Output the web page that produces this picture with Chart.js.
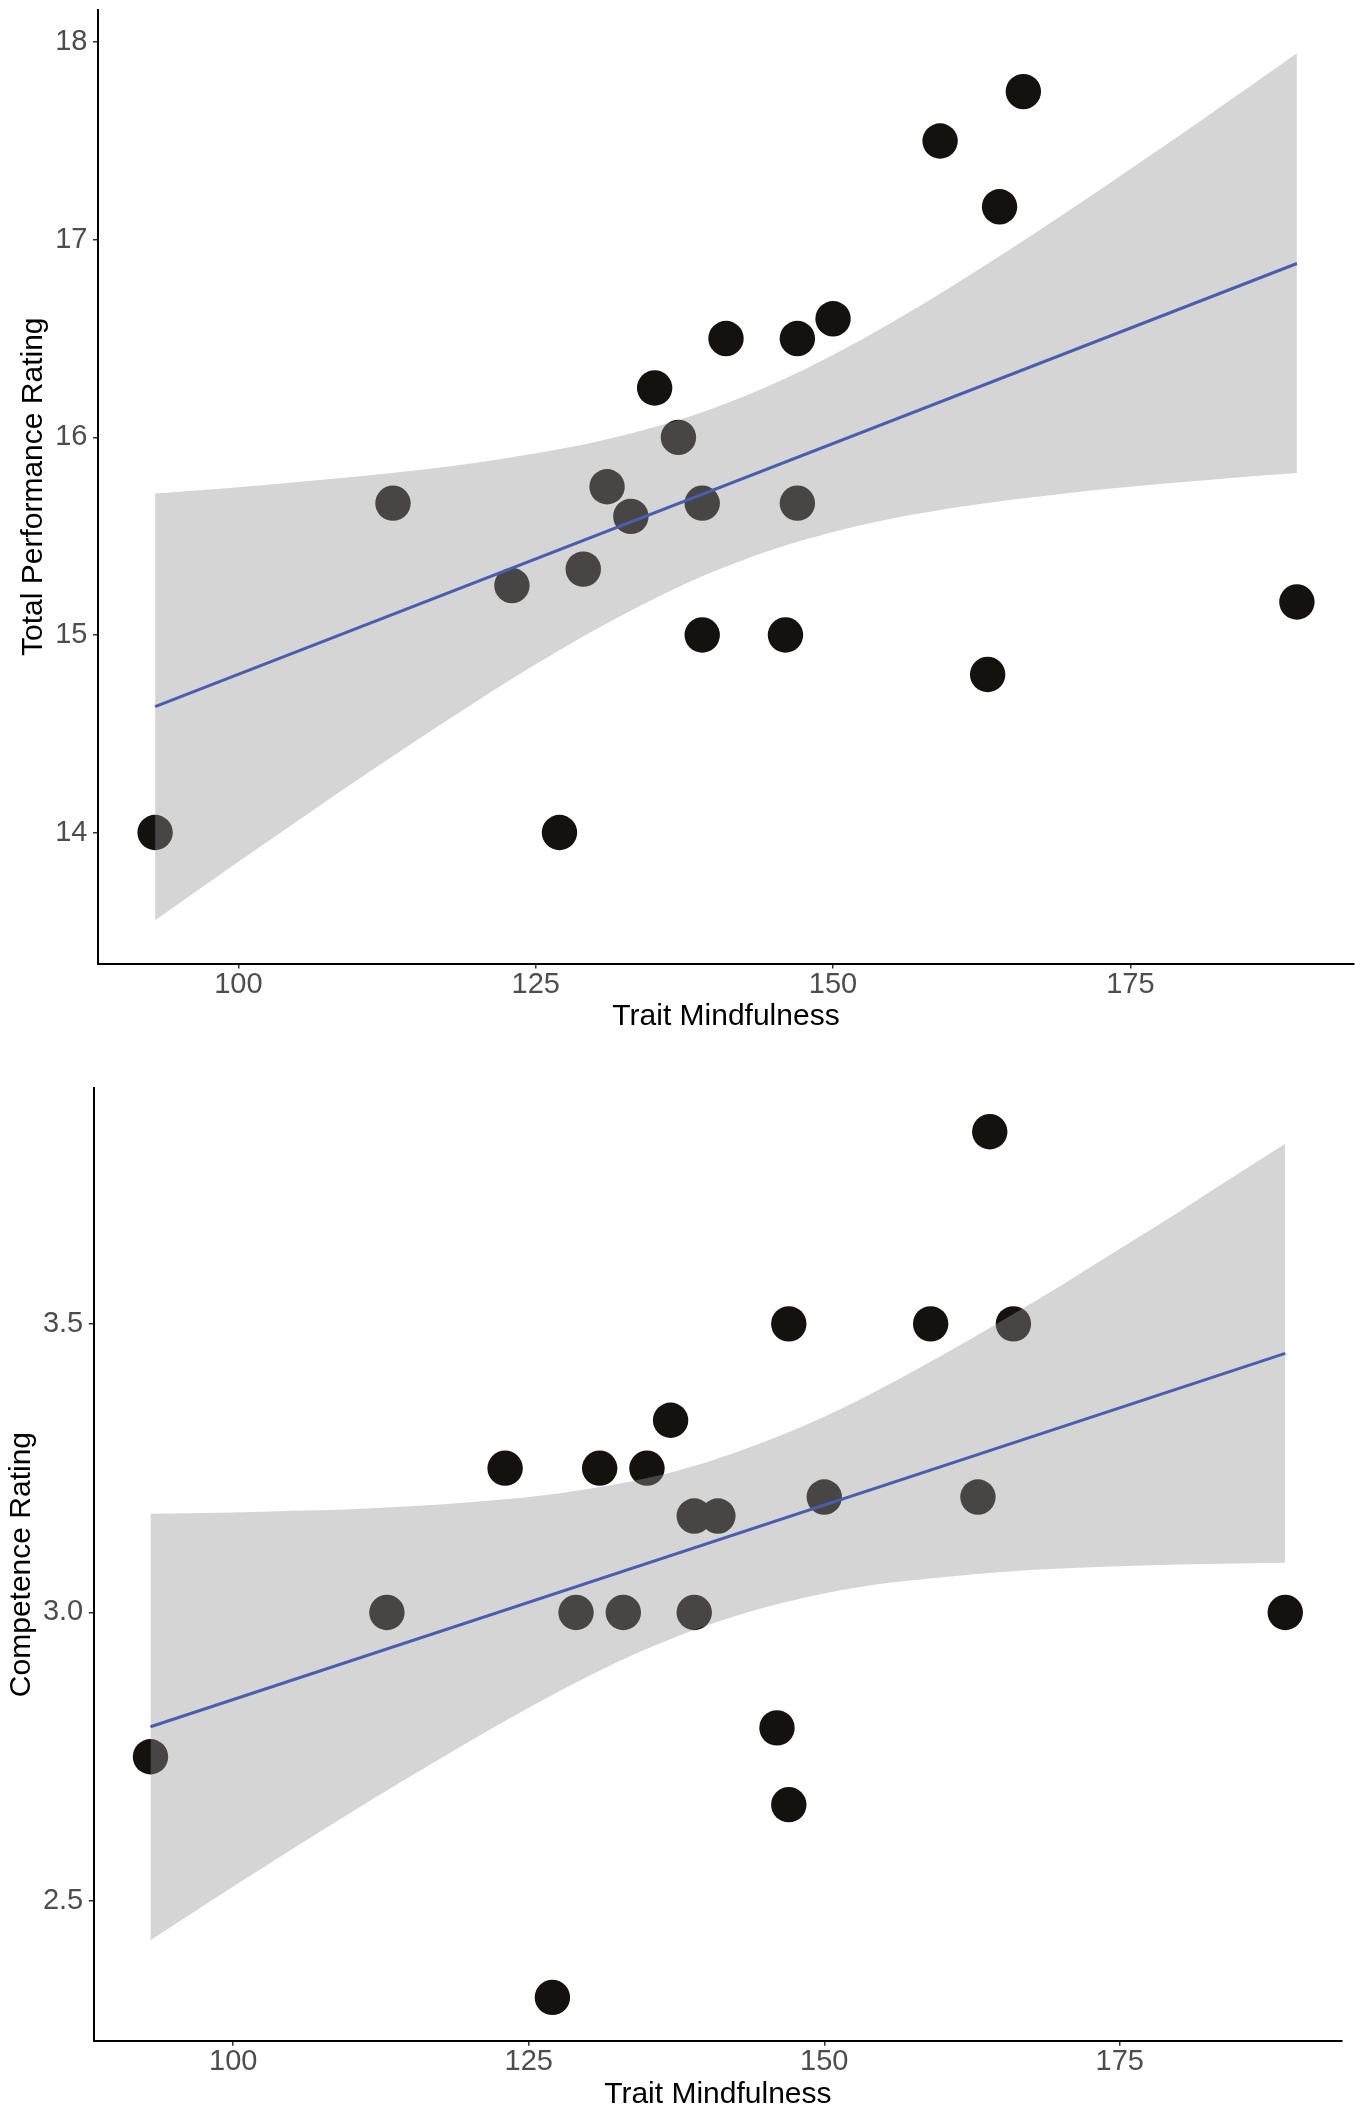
<!DOCTYPE html>
<html>
<head>
<meta charset="utf-8">
<script src="https://cdn.jsdelivr.net/npm/chart.js@4"></script>
<style>
html,body{margin:0;padding:0;background:#fff;}
body{width:1364px;height:2122px;position:relative;overflow:hidden;}
canvas{position:absolute;left:0;}
#c1{top:0;}
#c2{top:1061px;}
</style>
</head>
<body>
<canvas id="c1" width="1364" height="1061"></canvas>
<canvas id="c2" width="1364" height="1061"></canvas>
<script>
// ---- data ----
const mindfulness = [93,113,123,127,129,131,133,135,137,139,139,141,146,147,147,150,159,163,164,166,189];
const performance = [14,15.667,15.25,14,15.333,15.75,15.6,16.25,16,15.667,15,16.5,15,16.5,15.667,16.6,17.5,14.8,17.167,17.75,15.167];
const competence  = [2.75,3,3.25,2.333,3,3.25,3,3.25,3.333,3.167,3,3.167,2.8,3.5,2.667,3.2,3.5,3.2,3.833,3.5,3];

const fitX = [93, 189];
const perfFit = [14.637, 16.880];
const compFit = [2.802, 3.449];

const bandX  = [93,100,105,110,115,120,125,130,135,140,145,150,155,160,165,170,175,180,185,189];
const perfLo = [13.556,13.852,14.060,14.266,14.467,14.663,14.851,15.026,15.185,15.322,15.434,15.521,15.589,15.642,15.684,15.720,15.750,15.777,15.802,15.820];
const perfHi = [15.716,15.748,15.774,15.802,15.834,15.872,15.919,15.977,16.052,16.149,16.271,16.417,16.584,16.765,16.956,17.155,17.358,17.565,17.775,17.944];
const compLo = [2.432,2.525,2.590,2.654,2.716,2.777,2.835,2.889,2.937,2.977,3.009,3.033,3.050,3.061,3.070,3.076,3.080,3.083,3.085,3.086];
const compHi = [3.171,3.173,3.176,3.179,3.184,3.191,3.200,3.214,3.233,3.260,3.296,3.339,3.390,3.446,3.505,3.566,3.630,3.694,3.760,3.812];

const xTicks = [100,125,150,175];
const xRange = [88.2, 193.8];
const perfTicks = [14,15,16,17,18];
const perfRange = [13.337, 18.163];
const compTicks = [2.5,3.0,3.5];
const compRange = [2.258, 3.908];

// ---- styling ----
const FONT = "'Liberation Sans', Arial, Helvetica, sans-serif";
const LINE = '#4a5daf';
const BAND = 'rgba(153,150,152,0.4)';
const POINT = '#13120e';

function pairs(xs, ys){ return xs.map((x,i)=>({x:x, y:ys[i]})); }

function build(id, ys, fitY, lo, hi, yTicks, yRange, dec, yTitle, g){
  new Chart(document.getElementById(id), {
    type: 'scatter',
    data: { datasets: [
      {label:'fit', data: pairs(fitX, fitY), showLine:true, borderColor:LINE, borderWidth:3,
       pointRadius:0, fill:false, order:0},
      {label:'upper', data: pairs(bandX, hi), showLine:true, borderColor:'rgba(0,0,0,0)', borderWidth:0,
       pointRadius:0, fill:'+1', backgroundColor:BAND, cubicInterpolationMode:'monotone', order:1},
      {label:'lower', data: pairs(bandX, lo), showLine:true, borderColor:'rgba(0,0,0,0)', borderWidth:0,
       pointRadius:0, fill:false, cubicInterpolationMode:'monotone', order:2},
      {label:'points', data: pairs(mindfulness, ys), pointRadius:17.7, pointHoverRadius:17.7,
       backgroundColor:POINT, borderWidth:0, order:3}
    ]},
    options: {
      responsive:false, maintainAspectRatio:false, animation:false, devicePixelRatio:1, events:[],
      layout:{autoPadding:false, padding:{top:g.top, right:g.right, left:0, bottom:0}},
      plugins:{legend:{display:false}, tooltip:{enabled:false}},
      scales:{
        x:{type:'linear', position:'bottom', min:xRange[0], max:xRange[1],
          afterBuildTicks: s => { s.ticks = xTicks.map(v=>({value:v})); },
          afterFit: s => { s.height = g.xh; s.paddingLeft = 0; s.paddingRight = 0; },
          grid:{drawOnChartArea:false, drawTicks:true, tickLength:5, color:'#333', lineWidth:1.5},
          border:{display:true, color:'#000', width:2},
          ticks:{color:'#4d4d4d', font:{family:FONT, size:29, lineHeight:1}, padding:1.5,
                 maxRotation:0, autoSkip:false, callback: v => String(v)},
          title:{display:true, text:'Trait Mindfulness', color:'#000',
                 font:{family:FONT, size:30, lineHeight:1.2}, padding:{top:0, bottom:g.xtp}}
        },
        y:{type:'linear', position:'left', min:yRange[0], max:yRange[1],
          afterBuildTicks: s => { s.ticks = yTicks.map(v=>({value:v})); },
          afterFit: s => { s.width = g.yw; s.paddingTop = 0; s.paddingBottom = 0; },
          grid:{drawOnChartArea:false, drawTicks:true, tickLength:5, color:'#333', lineWidth:1.5},
          border:{display:true, color:'#000', width:2},
          ticks:{color:'#4d4d4d', font:{family:FONT, size:29, lineHeight:1}, padding:5.5,
                 autoSkip:false, callback: v => Number(v).toFixed(dec)},
          title:{display:true, text:yTitle, color:'#000',
                 font:{family:FONT, size:30, lineHeight:1.2}, padding:{top:g.ytp, bottom:0}}
        }
      }
    }
  });
}

build('c1', performance, perfFit, perfLo, perfHi, perfTicks, perfRange, 0, 'Total Performance Rating',
      {top:10, right:10, xh:97.5, yw:98, xtp:26, ytp:16});
build('c2', competence, compFit, compLo, compHi, compTicks, compRange, 1, 'Competence Rating',
      {top:27.4, right:22, xh:81.3, yw:93.75, xtp:9.5, ytp:4});
</script>
</body>
</html>
